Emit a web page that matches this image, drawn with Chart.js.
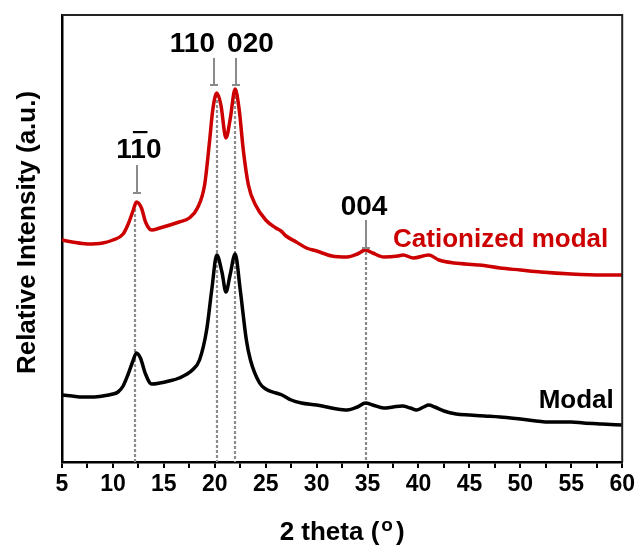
<!DOCTYPE html>
<html><head><meta charset="utf-8">
<script src="https://cdn.jsdelivr.net/npm/chart.js@4.4.1/dist/chart.umd.min.js"></script>
<style>html,body{margin:0;padding:0;background:#fff}#wrap{width:638px;height:547px}</style>
</head><body><div id="wrap"><canvas id="c" width="638" height="547"></canvas></div>
<script>
// ---- data (2 theta in degrees, relative intensity in arbitrary units) ----
const xModal = [5,6,7,8,9,10,10.5,11,11.5,12,12.3,12.7,13.2,13.8,14.6,15.5,16.5,17.8,18.5,19.2,19.7,20.2,20.7,21.1,21.5,22.0,22.5,23.1,23.5,24.4,25,26,26.6,27.5,28.5,30,31,32,33,34,34.8,35.5,36.6,37.5,38.4,39.2,39.8,40.5,41,41.6,42.5,43.7,45,46.5,48,50,52.8,55,56.2,58,60];
const yModal = [67,66,65,65,66,68,70,76,88,102,109,104,88,78,79,81,84,92,102,132,172,207,190,170,187,208,172,122,102,79,73,69,67,62,59,57,55,53,52,55,59,57,54,55,56,54,52,55,57,55,51,48,47,46,45,43,40,40,39,38,37];
const xCation = [5,6,7.5,9,10,11,11.5,12,12.3,12.8,13.2,13.8,14.6,16.5,17.5,18.3,19,19.5,19.8,20.2,20.6,21.1,21.5,22.0,22.4,22.8,23.3,24,25,26,26.5,27,28,29,30,31.5,33,34,34.8,35.5,36.6,38,38.5,39.5,41,42,43.5,46,48,50,52,55,58,60];
const yCation = [222,220,218,219,222,228,238,252,260,254,240,232,234,240,244,254,277,322,352,369,357,324,342,373,352,312,277,257,242,234,231,226,220,214,211,206,205,208,212,209,205,206,207,204,207,202,199,197,194,192,190,188,187,187];
const xTickLabels = [5,10,15,20,25,30,35,40,45,50,55,60];
const seriesNames = ['Modal','Cationized modal'];
// peak annotations
const peakText = ['110','110','020','004'];
const peakBarIndex = [1,-1,-1,-1];
const peakMarkX = [12.4,19.9,22.1,34.8];
const peakMarkTop = [297,404,404,242];
const peakMarkBottom = [269,377,377,214];
const peakTextX = [12.55,17.8,23.5,34.65];
const peakTextY = [304,410,410,247];
const dropX = [12.2,20.2,22.0,34.8];
const dropTop = [258,367,371,210];
const seriesLabelX = [51.8,37.5];
const seriesLabelY = [54,215];

const FONT = '"Liberation Sans", Arial, Helvetica, sans-serif';
const RED = '#cc0000';

const annot = {
  id: 'annot',
  beforeDatasetsDraw(chart) {
    const {ctx, scales:{x,y}} = chart;
    ctx.save();
    ctx.strokeStyle = '#8c8c8c'; ctx.lineWidth = 2.2; ctx.setLineDash([3,2]);
    dropX.forEach((xv,i)=>{
      const px = Math.round(x.getPixelForValue(xv));
      ctx.beginPath(); ctx.moveTo(px, y.getPixelForValue(dropTop[i])); ctx.lineTo(px, y.getPixelForValue(0)); ctx.stroke();
    });
    ctx.restore();
  },
  afterDraw(chart) {
    const {ctx, chartArea:ca, scales:{x,y}} = chart;
    ctx.save();
    // frame top/right
    ctx.strokeStyle = '#222'; ctx.lineWidth = 2;
    ctx.beginPath(); ctx.moveTo(ca.left, ca.top); ctx.lineTo(ca.right, ca.top); ctx.lineTo(ca.right, ca.bottom); ctx.stroke();
    // peak markers
    ctx.strokeStyle = '#8a8a8a'; ctx.lineWidth = 2;
    peakMarkX.forEach((xv,i)=>{
      const px = Math.round(x.getPixelForValue(xv));
      const t = y.getPixelForValue(peakMarkTop[i]), b = y.getPixelForValue(peakMarkBottom[i]);
      ctx.beginPath(); ctx.moveTo(px, t); ctx.lineTo(px, b); ctx.moveTo(px-4, b); ctx.lineTo(px+4, b); ctx.stroke();
    });
    // peak labels
    ctx.fillStyle = '#000'; ctx.font = 'bold 28px ' + FONT; ctx.textBaseline = 'alphabetic'; ctx.textAlign = 'left';
    peakText.forEach((s,i)=>{
      const w = ctx.measureText(s).width;
      const cx = x.getPixelForValue(peakTextX[i]), by = y.getPixelForValue(peakTextY[i]);
      const x0 = cx - w/2;
      ctx.fillText(s, x0, by);
      if (peakBarIndex[i] >= 0) {
        const a = ctx.measureText(s.slice(0, peakBarIndex[i])).width;
        const cw = ctx.measureText(s[peakBarIndex[i]]).width;
        ctx.fillRect(x0 + a + 1, by - 27, cw - 1, 2.2);
      }
    });
    // series labels
    ctx.font = 'bold 26px ' + FONT;
    const colors = ['#000', RED];
    seriesNames.forEach((s,i)=>{
      ctx.fillStyle = colors[i];
      ctx.fillText(s, x.getPixelForValue(seriesLabelX[i]), y.getPixelForValue(seriesLabelY[i]));
    });
    // x title: 2 theta (°)
    ctx.fillStyle = '#000';
    const p1 = '2 theta (', p2 = 'o', p3 = ')';
    ctx.font = 'bold 26px ' + FONT;
    const w1 = ctx.measureText(p1).width, w3 = ctx.measureText(p3).width;
    ctx.font = 'bold 19px ' + FONT;
    const w2 = ctx.measureText(p2).width;
    const tot = w1 + 2 + w2 + 3 + w3;
    const cx = (ca.left + ca.right)/2, base = 540;
    let sx = cx - tot/2;
    ctx.font = 'bold 26px ' + FONT; ctx.fillText(p1, sx, base);
    ctx.font = 'bold 19px ' + FONT; ctx.fillText(p2, sx + w1 + 2, base - 9);
    ctx.font = 'bold 26px ' + FONT; ctx.fillText(p3, sx + w1 + 2 + w2 + 3, base);
    // y title
    ctx.translate(28, (ca.top + ca.bottom)/2 - 6);
    ctx.rotate(-Math.PI/2);
    ctx.textAlign = 'center'; ctx.textBaseline = 'middle';
    ctx.font = 'bold 26px ' + FONT;
    ctx.fillText('Relative Intensity (a.u.)', 0, 0);
    ctx.restore();
  }
};

const toPts = (xs, ys) => xs.map((v,i)=>({x:v, y:ys[i]}));

new Chart(document.getElementById('c'), {
  type: 'line',
  data: {
    datasets: [
      { label: seriesNames[0], data: toPts(xModal, yModal), borderColor: '#000', borderWidth: 3.5, pointRadius: 0, cubicInterpolationMode: 'monotone', fill: false },
      { label: seriesNames[1], data: toPts(xCation, yCation), borderColor: RED, borderWidth: 3.5, pointRadius: 0, cubicInterpolationMode: 'monotone', fill: false }
    ]
  },
  options: {
    responsive: false, animation: false, devicePixelRatio: 1,
    layout: { padding: { left: 0, right: 14, top: 15, bottom: 0 } },
    plugins: { legend: { display: false }, tooltip: { enabled: false } },
    scales: {
      x: {
        type: 'linear', min: 5, max: 60,
        afterFit(s) { s.height = 85; },
        border: { display: true, color: '#000', width: 2.5 },
        grid: { display: true, drawOnChartArea: false, drawTicks: true, tickLength: 6, color: '#000', lineWidth: 2 },
        ticks: {
          stepSize: 2.5, autoSkip: false, maxRotation: 0, padding: 3, color: '#000',
          font: { family: FONT, size: 23, weight: 'bold' },
          callback: (v) => xTickLabels.includes(v) ? String(v) : ''
        }
      },
      y: {
        min: 0, max: 447,
        afterFit(s) { s.width = 62; },
        border: { display: true, color: '#000', width: 2.5 },
        grid: { display: false },
        ticks: { display: false }
      }
    }
  },
  plugins: [annot]
});
</script></body></html>
